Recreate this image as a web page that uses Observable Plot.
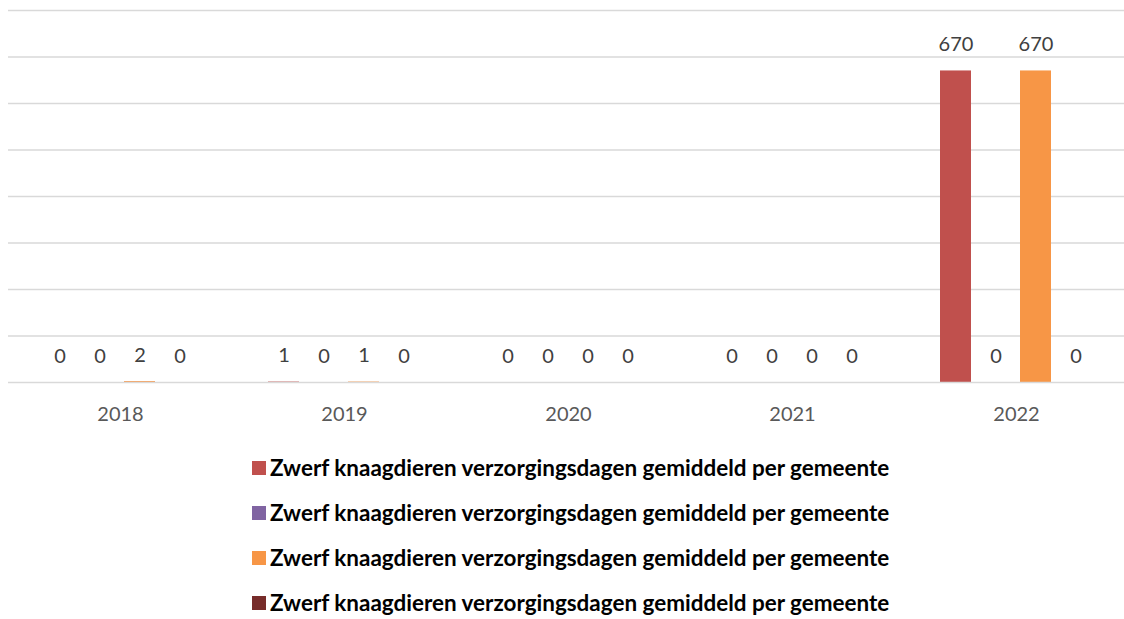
<!DOCTYPE html>
<html>
<head>
<meta charset="utf-8">
<script src="https://cdn.jsdelivr.net/npm/d3@7"></script>
<script src="https://cdn.jsdelivr.net/npm/@observablehq/plot@0.6"></script>
<style>
  html, body { margin: 0; padding: 0; background: #fff; width: 1124px; height: 619px; overflow: hidden; }
  #chart { position: absolute; left: 0; top: 0; }
  #legend { position: absolute; left: 252px; top: 445px; font-family: Lato, "Open Sans", sans-serif; font-weight: 700; color: #000; }
  .row { height: 45px; display: flex; align-items: center; white-space: nowrap; }
  .sw { width: 14px; height: 14px; margin-right: 4px; flex: none; }
</style>
</head>
<body>
<div id="chart"></div>
<div id="legend"></div>
<script>
const years = ["2018", "2019", "2020", "2021", "2022"];
const seriesKeys = ["s1", "s2", "s3", "s4"];
const seriesNames = [
  "Zwerf knaagdieren verzorgingsdagen gemiddeld per gemeente",
  "Zwerf knaagdieren verzorgingsdagen gemiddeld per gemeente",
  "Zwerf knaagdieren verzorgingsdagen gemiddeld per gemeente",
  "Zwerf knaagdieren verzorgingsdagen gemiddeld per gemeente"
];
const seriesColors = ["#C0504D", "#8064A2", "#F79646", "#772C2A"];
const s1Values = [0, 1, 0, 0, 670];
const s2Values = [0, 0, 0, 0, 0];
const s3Values = [2, 1, 0, 0, 670];
const s4Values = [0, 0, 0, 0, 0];
const yTicks = [100, 200, 300, 400, 500, 600, 700, 800];

const allValues = [s1Values, s2Values, s3Values, s4Values];
const data = [];
years.forEach((yr, i) => {
  seriesKeys.forEach((k, j) => {
    data.push({year: yr, series: k, value: allValues[j][i]});
  });
});

const fontFamily = "Lato, 'Open Sans', sans-serif";

const chart = Plot.plot({
  width: 1124,
  height: 440,
  marginTop: 10,
  marginBottom: 58,
  marginLeft: 8,
  marginRight: -4,
  style: {fontFamily, background: "transparent"},
  fx: {domain: years, padding: 0, axis: null},
  x: {domain: seriesKeys, paddingInner: 0.214, paddingOuter: 0.857, axis: null},
  y: {domain: [0, 800], axis: null},
  color: {domain: seriesKeys, range: seriesColors},
  marks: [
    Plot.ruleY(yTicks, {stroke: "#d9d9d9", strokeWidth: 1.5}),
    Plot.barY(data, {fx: "year", x: "series", y: "value", fill: "series", inset: 0}),
    Plot.ruleY([0], {stroke: "#d9d9d9", strokeWidth: 1.5}),
    Plot.text(data, {fx: "year", x: "series", y: "value", text: d => String(d.value), dy: -26, fontSize: 20, fill: "#404040"}),
    Plot.axisFx({anchor: "bottom", tickSize: 0, tickPadding: 24, fontSize: 20, fill: "#595959", label: null})
  ]
});
document.getElementById("chart").appendChild(chart);

// Legend
const legend = document.getElementById("legend");
const canvas = document.createElement("canvas");
const ctx = canvas.getContext("2d");
ctx.font = "700 20px Lato";
const w20 = ctx.measureText(seriesNames[0]).width;
const fs = 20 * 621 / w20;
seriesKeys.forEach((k, i) => {
  const row = document.createElement("div");
  row.className = "row";
  const sw = document.createElement("div");
  sw.className = "sw";
  sw.style.background = seriesColors[i];
  const t = document.createElement("span");
  t.textContent = seriesNames[i];
  t.style.fontSize = fs + "px";
  row.appendChild(sw);
  row.appendChild(t);
  legend.appendChild(row);
});
</script>
</body>
</html>
